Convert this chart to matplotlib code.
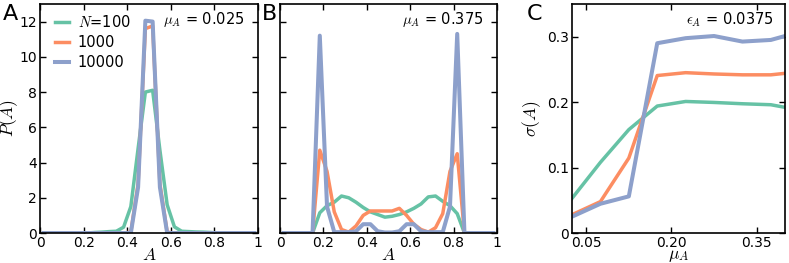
import numpy as np
import matplotlib
matplotlib.use('Agg')
import matplotlib.pyplot as plt

plt.rcParams['font.family'] = 'DejaVu Sans'
plt.rcParams['mathtext.fontset'] = 'cm'
plt.rcParams['font.size'] = 10

GREEN = '#66c2a5'
ORANGE = '#fc8d62'
BLUE = '#8da0cb'

# bin centres (30 bins on [0, 1])
A_bins = (np.arange(30) + 0.5) / 30

# panel A, mu_A = 0.025
pa_100 = [0, 0, 0, 0, 0, 0, 0, 0.03, 0.05, 0.08, 0.1, 0.33, 1.5, 4.8, 8.0,
          8.1, 4.7, 1.6, 0.35, 0.1, 0.08, 0.06, 0.05, 0.03, 0, 0, 0, 0, 0, 0]
pa_1000 = [0, 0, 0, 0, 0, 0, 0, 0, 0, 0, 0, 0, 0.05, 2.8, 11.6,
           11.75, 2.8, 0.05, 0, 0, 0, 0, 0, 0, 0, 0, 0, 0, 0, 0]
pa_10000 = [0, 0, 0, 0, 0, 0, 0, 0, 0, 0, 0, 0, 0, 2.6, 12.05,
            12.0, 2.6, 0, 0, 0, 0, 0, 0, 0, 0, 0, 0, 0, 0, 0]

# panel B, mu_A = 0.375
pb_100 = [0, 0, 0, 0, 0, 1.15, 1.55, 1.75, 2.1, 2.0, 1.75, 1.45, 1.2, 1.05, 0.9,
          0.95, 1.05, 1.2, 1.4, 1.65, 2.05, 2.1, 1.8, 1.55, 1.1, 0, 0, 0, 0, 0]
pb_1000 = [0, 0, 0, 0, 0, 4.7, 3.5, 1.2, 0.2, 0.05, 0.4, 1.0, 1.25, 1.25, 1.25,
           1.25, 1.4, 1.0, 0.5, 0.2, 0.05, 0.3, 1.1, 3.5, 4.5, 0, 0, 0, 0, 0]
pb_10000 = [0, 0, 0, 0, 0, 11.2, 1.5, 0.05, 0.05, 0.05, 0.1, 0.5, 0.5, 0.1, 0.03,
            0.03, 0.1, 0.5, 0.5, 0.1, 0.05, 0.05, 0.05, 1.5, 11.3, 0, 0, 0, 0, 0]

# panel C, eps_A = 0.0375
mu = [0.025, 0.075, 0.125, 0.175, 0.225, 0.275, 0.325, 0.375, 0.40]
sc_100 = [0.053, 0.108, 0.158, 0.194, 0.201, 0.1995, 0.1975, 0.196, 0.192]
sc_1000 = [0.028, 0.048, 0.1145, 0.2406, 0.245, 0.243, 0.2417, 0.2417, 0.244]
sc_10000 = [0.025, 0.0447, 0.056, 0.290, 0.2977, 0.301, 0.2925, 0.295, 0.301]

labels = ['$N$=100', '1000', '10000']
colors = [GREEN, ORANGE, BLUE]
lws = [2.5, 2.5, 2.9]


def style(ax):
    ax.tick_params(direction='in', top=True, right=True, length=4, width=1,
                   labelsize=10, pad=2)
    for s in ax.spines.values():
        s.set_linewidth(1.2)


fig = plt.figure(figsize=(7.89, 2.63), dpi=100)
axA = fig.add_axes([0.0507, 0.114, 0.2763, 0.871])
axB = fig.add_axes([0.3549, 0.114, 0.2750, 0.871])
axC = fig.add_axes([0.7250, 0.114, 0.2700, 0.871])

for ys, c, lw, lab in zip([pa_100, pa_1000, pa_10000], colors, lws, labels):
    axA.plot(A_bins, ys, color=c, lw=lw, label=lab)
for ys, c, lw in zip([pb_100, pb_1000, pb_10000], colors, lws):
    axB.plot(A_bins, ys, color=c, lw=lw)
for ys, c, lw in zip([sc_100, sc_1000, sc_10000], colors, lws):
    axC.plot(mu, ys, color=c, lw=lw)

for ax in (axA, axB):
    ax.set_xlim(0, 1)
    ax.set_ylim(0, 13)
    ax.set_xticks([0, 0.2, 0.4, 0.6, 0.8, 1])
    ax.set_xticklabels(['0', '0.2', '0.4', '0.6', '0.8', '1'])
    ax.set_yticks([0, 2, 4, 6, 8, 10, 12])
    ax.set_xlabel('$A$', fontsize=12.5, labelpad=-3)
    style(ax)
axA.set_ylabel('$P(A)$', fontsize=12.5, labelpad=0)
axB.set_yticklabels([])

axC.set_xlim(0.025, 0.40)
axC.set_ylim(0, 0.35)
axC.set_xticks([0.05, 0.20, 0.35])
axC.set_xticklabels(['0.05', '0.20', '0.35'])
axC.set_yticks([0, 0.1, 0.2, 0.3])
axC.set_yticklabels(['0', '0.1', '0.2', '0.3'])
axC.set_xlabel(r'$\mu_A$', fontsize=12.5, labelpad=-3)
axC.set_ylabel(r'$\sigma(A)$', fontsize=12.5, labelpad=3)
style(axC)

axA.legend(loc='upper left', frameon=False, fontsize=10.5, handlelength=1.0,
           handletextpad=0.6, labelspacing=0.35, borderaxespad=0.3,
           bbox_to_anchor=(0.02, 1.0))

axA.text(0.94, 0.93, r'$\mu_A$ = 0.025', transform=axA.transAxes,
         ha='right', va='center', fontsize=10.5)
axB.text(0.94, 0.93, r'$\mu_A$ = 0.375', transform=axB.transAxes,
         ha='right', va='center', fontsize=10.5)
axC.text(0.95, 0.93, r'$\epsilon_A$ = 0.0375', transform=axC.transAxes,
         ha='right', va='center', fontsize=10.5)

fig.text(0.003, 0.985, 'A', fontsize=16, ha='left', va='top')
fig.text(0.332, 0.985, 'B', fontsize=16, ha='left', va='top')
fig.text(0.667, 0.985, 'C', fontsize=16, ha='left', va='top')

fig.savefig('out.png', dpi=100)
